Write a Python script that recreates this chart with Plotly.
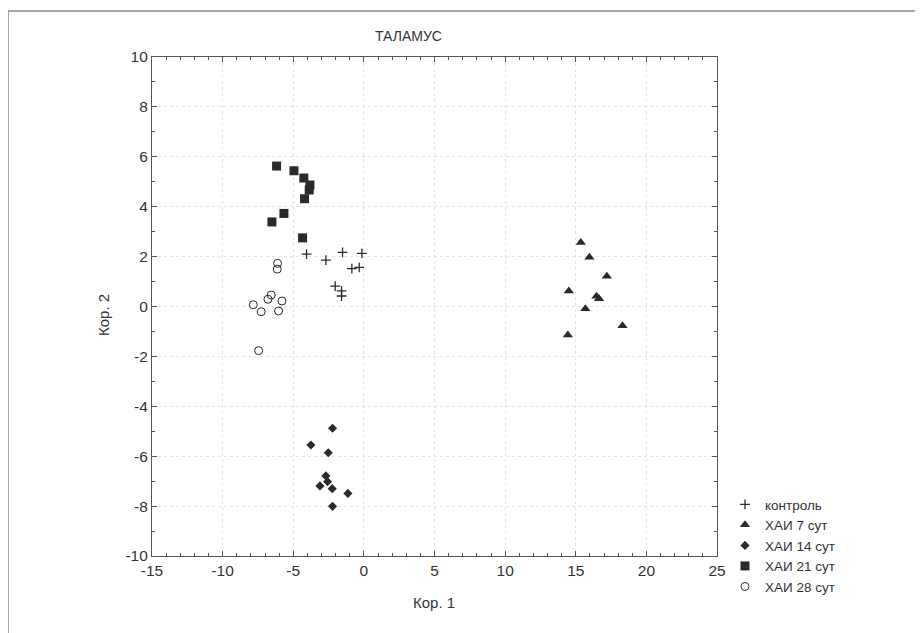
import plotly.graph_objects as go

# ---- data ----
kontrol_x = [-4.06, -2.69, -1.51, -0.14, -0.85, -0.33, -2.03, -1.58, -1.58]
kontrol_y = [2.10, 1.86, 2.17, 2.13, 1.52, 1.57, 0.82, 0.63, 0.42]

hai7_x = [15.36, 15.97, 17.20, 14.51, 16.47, 16.65, 15.68, 18.31, 14.44]
hai7_y = [2.57, 1.97, 1.21, 0.62, 0.41, 0.31, -0.09, -0.77, -1.14]

hai14_x = [-2.22, -3.75, -2.52, -2.69, -2.57, -3.11, -2.24, -1.13, -2.22]
hai14_y = [-4.88, -5.55, -5.86, -6.79, -7.02, -7.19, -7.30, -7.49, -8.01]

hai21_x = [-6.18, -4.95, -4.25, -3.82, -3.87, -4.20, -5.66, -6.51, -4.34]
hai21_y = [5.63, 5.44, 5.15, 4.87, 4.67, 4.32, 3.73, 3.39, 2.75]

hai28_x = [-6.11, -6.13, -6.56, -6.79, -5.80, -7.83, -7.27, -6.04, -7.45]
hai28_y = [1.73, 1.50, 0.46, 0.29, 0.22, 0.07, -0.21, -0.18, -1.77]

series_names = ["контроль", "ХАИ 7 сут", "ХАИ 14 сут", "ХАИ 21 сут", "ХАИ 28 сут"]

x_ticks = [-15, -10, -5, 0, 5, 10, 15, 20, 25]
y_ticks = [-10, -8, -6, -4, -2, 0, 2, 4, 6, 8, 10]

INK = "#2a2a2a"
FONT = "Liberation Sans, Arial, sans-serif"

fig = go.Figure()
fig.add_trace(go.Scatter(x=kontrol_x, y=kontrol_y, mode="markers", name=series_names[0],
                         marker=dict(symbol="cross-thin", size=7, line=dict(color=INK, width=1.3), color=INK)))
fig.add_trace(go.Scatter(x=hai7_x, y=hai7_y, mode="markers", name=series_names[1],
                         marker=dict(symbol="triangle-up", size=9, color=INK)))
fig.add_trace(go.Scatter(x=hai14_x, y=hai14_y, mode="markers", name=series_names[2],
                         marker=dict(symbol="diamond", size=7, color=INK)))
fig.add_trace(go.Scatter(x=hai21_x, y=hai21_y, mode="markers", name=series_names[3],
                         marker=dict(symbol="square", size=9, color=INK)))
fig.add_trace(go.Scatter(x=hai28_x, y=hai28_y, mode="markers", name=series_names[4],
                         marker=dict(symbol="circle-open", size=8, color=INK, line=dict(width=1))))

OFF = 8  # page body margin
W, H = 923 - OFF, 633 - OFF
L, T = 152 - OFF, 57 - OFF
pw, ph = 565, 499
R, B = W - L - pw, H - T - ph

def px_x(p):
    return (p - OFF - L) / pw

def px_y(p):
    return (T + ph - (p - OFF)) / ph

axis_common = dict(showline=True, linecolor="#555", linewidth=1.2, mirror="ticks",
                   ticks="inside", ticklen=5, tickcolor="#555",
                   showgrid=True, gridcolor="#e4e4e4", griddash="dot", gridwidth=1,
                   zeroline=False, tickfont=dict(size=15.5, color="#333", family=FONT))

txt = dict(showarrow=False, xref="paper", yref="paper", xanchor="center", yanchor="middle")

fig.update_layout(
    width=W, height=H,
    margin=dict(l=L, r=R, t=T, b=B),
    paper_bgcolor="white", plot_bgcolor="white",
    font=dict(family=FONT, color="#333"),
    showlegend=True,
    legend=dict(x=px_x(725), y=px_y(489), xanchor="left", yanchor="top",
                bgcolor="rgba(0,0,0,0)", font=dict(size=13.5, color="#333", family=FONT),
                itemsizing="trace", tracegroupgap=0),
    xaxis=dict(range=[-15, 25], tickvals=x_ticks, ticktext=[str(v) for v in x_ticks],
               minor=dict(dtick=1, ticks="inside", ticklen=3, tickcolor="#555", showgrid=False),
               **axis_common),
    yaxis=dict(range=[-10, 10], tickvals=y_ticks, ticktext=[str(v) for v in y_ticks],
               minor=dict(dtick=1, ticks="inside", ticklen=3, tickcolor="#555", showgrid=False),
               **axis_common),
    shapes=[dict(type="rect", xref="paper", yref="paper",
                 x0=px_x(8), x1=px_x(945), y0=px_y(655), y1=px_y(11),
                 line=dict(color="#888", width=1.5), layer="below")],
    annotations=[
        dict(text="ТАЛАМУС", x=px_x(408), y=px_y(36),
             font=dict(size=14, color="#333", family=FONT), **txt),
        dict(text="Кор. 1", x=px_x(434), y=px_y(602),
             font=dict(size=15, color="#333", family=FONT), **txt),
        dict(text="Кор. 2", x=px_x(103), y=px_y(315), textangle=-90,
             font=dict(size=15, color="#333", family=FONT), **txt),
    ],
)

fig.write_html("out.html")
